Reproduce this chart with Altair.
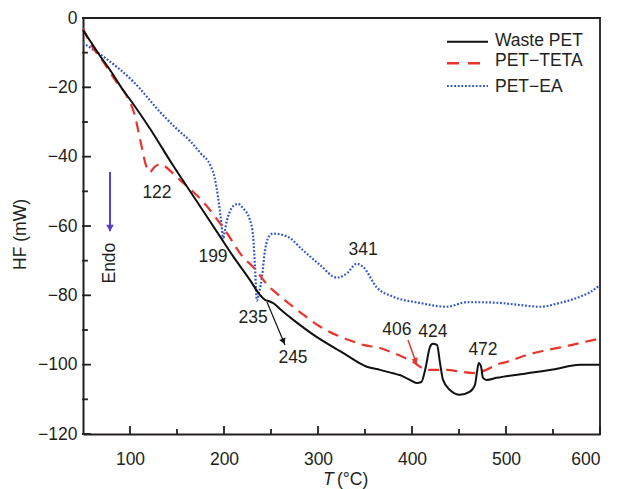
import altair as alt
import pandas as pd

# ---------------- data ----------------
waste_T = [50, 58, 66, 80, 92.6, 100, 121, 145.7, 174.5, 195.7, 209.6, 227.7, 238, 243.6, 248, 252,
           262, 273.4, 298.5, 326.6, 352, 366, 380, 387, 397.8, 405, 410, 414, 419, 422, 426.6,
           429.8, 433, 440.4, 451, 461.7, 467, 469, 471, 473.5, 475.5, 479.4, 490, 520, 550, 578.7, 600]
waste_HF = [-3.5, -6.8, -10.1, -15.5, -20.8, -23.5, -31.8, -42.5, -54.3, -63, -68.7, -75.6, -79.8, -81.3, -81.7, -82.2,
            -84.5, -87, -92, -96.6, -100.6, -101.5, -102.5, -103, -104.4, -105.3, -105, -101.5, -95, -94, -94.3,
            -99.5, -104.4, -107.3, -108.7, -107.8, -105.8, -102.4, -99.5, -100.6, -103.8, -104.4, -103.8, -102.6, -101.4, -100, -100]

teta_T = [50, 60.6, 70, 85, 96, 105, 112, 117, 121, 126, 132, 145.7, 153, 160.6, 177.7, 203, 220, 231,
          249, 252, 284, 302, 320, 341.5, 348, 366, 380, 401, 416, 437, 451, 465, 479, 490, 501, 522,
          543.6, 565, 592.6, 600]
teta_HF = [-3.0, -8.6, -12, -18.2, -22.2, -28, -36.6, -42.5, -44.5, -43, -42.2, -44.8, -46.7, -48.5, -53, -62, -68.9, -71.8,
           -77.8, -78.5, -85.5, -89, -91.5, -93.7, -94.3, -95.2, -96.6, -99.2, -101.5, -101.5, -102, -102.4, -101.5, -100, -99.2, -97.2,
           -95.8, -94.6, -92.9, -92.5]

ea_T = [50, 71, 103, 135, 151, 164, 175, 186, 190, 193.6, 196, 197.9, 199, 200.5, 203, 206, 210, 215, 220,
        227.7, 231, 233, 235, 237.5, 240.4, 243.6, 249, 252, 267, 284, 302, 320, 331, 341, 348, 362.8, 380,
        408.5, 437, 458, 475, 493.6, 515, 536, 557, 578.7, 590, 600]
ea_HF = [-7.2, -11, -18.2, -28, -32.3, -35.5, -39, -42.8, -46, -51.6, -56.5, -61, -64, -62, -58.5, -56, -54.2, -53.6, -54.8,
         -58.3, -63, -71.8, -81.5, -79, -74.7, -67, -62.6, -62.2, -63, -67, -71.2, -74.9, -73.6, -70.9, -71.8, -77.8, -80.4,
         -82.2, -83.3, -82, -82, -82.2, -82.8, -83.3, -82.2, -80.4, -79, -77]

series_names = ["Waste PET", "PET\u2212TETA", "PET\u2212EA"]

x_major = [100, 200, 300, 400, 500, 600]
x_minor = [150, 250, 350, 450, 550]
y_major = [0, -20, -40, -60, -80, -100, -120]
y_minor = [-10, -30, -50, -70, -90, -110]
x_min, x_max = 50, 600
y_min, y_max = -120, 0

peak_labels = ["122", "199", "235", "245", "341", "406", "424", "472"]
peak_T = [128.7, 188.3, 230.9, 273.4, 347.9, 384, 422.3, 475.5]
peak_HF = [-50.5, -68.9, -86.5, -98.1, -66.9, -90.0, -90.6, -95.8]

# arrows (start, end) in data space
black_arrow_T = [245.7, 264.9]
black_arrow_HF = [-81.9, -94.3]
red_arrow_T = [395.7, 405.3]
red_arrow_HF = [-92.9, -100.1]
endo_arrow_T = [78.7, 78.7]
endo_arrow_HF = [-44.4, -61.5]
endo_text_T = [78.7]
endo_text_HF = [-70.7]

# ---------------- styling ----------------
W, H = 517, 416
FONT = "Liberation Sans"
FS = 17.5
INK = "#231f20"
BLACK = "#111111"
RED = "#e8352c"
BLUE = "#2f55cc"
PURPLE = "#5b3fc4"
MAJOR_PX, MINOR_PX = 7, 4

xs = alt.Scale(domain=[x_min, x_max], nice=False, zero=False)
ys = alt.Scale(domain=[y_min, y_max], nice=False, zero=False)

x_axis = alt.Axis(values=x_major, title=None, grid=False, domain=True, domainColor=INK, domainWidth=2,
                  ticks=False, tickSize=0, labelPadding=16, labelFont=FONT, labelFontSize=FS, labelColor=INK)
y_axis = alt.Axis(values=y_major, title="HF (mW)", titleX=-58, titleY=216, titleAngle=270,
                  titleAlign="center", titleBaseline="alphabetic", titleFont=FONT, titleFontSize=FS,
                  titleFontWeight="normal", titleColor=INK, grid=False, domain=True, domainColor=INK,
                  domainWidth=2, ticks=False, tickSize=0, labelPadding=6, labelFont=FONT,
                  labelFontSize=FS, labelColor=INK)

X = alt.X("T:Q", scale=xs, axis=x_axis)
Y = alt.Y("HF:Q", scale=ys, axis=y_axis)

one = pd.DataFrame({"a": [0]})

# data units per pixel, to size the inside ticks
ux = (x_max - x_min) / W
uy = (y_max - y_min) / H

# segments (inside ticks + top/right frame) as two-point lines
rows = []
k = 0
for v in x_major:
    rows += [dict(g=k, T=v, HF=y_min), dict(g=k, T=v, HF=y_min + MAJOR_PX * uy)]; k += 1
for v in x_minor:
    rows += [dict(g=k, T=v, HF=y_min), dict(g=k, T=v, HF=y_min + MINOR_PX * uy)]; k += 1
for v in y_major:
    rows += [dict(g=k, T=x_min, HF=v), dict(g=k, T=x_min + MAJOR_PX * ux, HF=v)]; k += 1
for v in y_minor:
    rows += [dict(g=k, T=x_min, HF=v), dict(g=k, T=x_min + MINOR_PX * ux, HF=v)]; k += 1
rows += [dict(g=k, T=x_min, HF=y_max), dict(g=k, T=x_max, HF=y_max)]; k += 1
rows += [dict(g=k, T=x_max, HF=y_min), dict(g=k, T=x_max, HF=y_max)]; k += 1
seg_df = pd.DataFrame(rows)


def curve(T, HF, color, width, dash=None):
    df = pd.DataFrame({"T": T, "HF": HF})
    kw = dict(color=color, strokeWidth=width, interpolate="monotone")
    if dash is not None:
        kw["strokeDash"] = dash
    return alt.Chart(df).mark_line(**kw).encode(x=X, y=Y)


def seg(T, HF, color, width):
    df = pd.DataFrame({"T": T, "HF": HF})
    return alt.Chart(df).mark_line(color=color, strokeWidth=width).encode(x=X, y=Y)


def head(T, HF, color, size, angle):
    df = pd.DataFrame({"T": [T], "HF": [HF]})
    return alt.Chart(df).mark_point(shape="triangle-down", filled=True, color=color, size=size,
                                    angle=angle, opacity=1, strokeWidth=0).encode(x=X, y=Y)


layers = []

# curves
layers.append(curve(ea_T, ea_HF, BLUE, 2.2, [1.8, 1.8]))
layers.append(curve(teta_T, teta_HF, RED, 2.2, [11, 7]))
layers.append(curve(waste_T, waste_HF, BLACK, 2.0))

# ticks and frame
layers.append(alt.Chart(seg_df).mark_line(color=INK, strokeWidth=1.8, strokeCap="square")
              .encode(x=X, y=Y, detail="g:N", order="HF:Q"))

# annotations
layers.append(alt.Chart(pd.DataFrame({"T": peak_T, "HF": peak_HF, "label": peak_labels}))
              .mark_text(font=FONT, fontSize=FS, color=INK, align="center", baseline="middle")
              .encode(x=X, y=Y, text="label:N"))
layers.append(seg(black_arrow_T, black_arrow_HF, BLACK, 1.2))
layers.append(head(263.3, -93.3, BLACK, 45, 337))
layers.append(seg(red_arrow_T, red_arrow_HF, RED, 1.5))
layers.append(head(403.8, -99.0, RED, 45, 340))
layers.append(seg(endo_arrow_T, endo_arrow_HF, PURPLE, 2.0))
layers.append(head(78.7, -60.6, PURPLE, 60, 0))
layers.append(alt.Chart(pd.DataFrame({"T": endo_text_T, "HF": endo_text_HF}))
              .mark_text(text="Endo", font=FONT, fontSize=FS, color=INK, angle=270,
                         align="center", baseline="middle")
              .encode(x=X, y=Y))

# x-axis title with italic T
layers.append(alt.Chart(one).mark_text(text="T", font=FONT, fontSize=FS, fontStyle="italic", color=INK,
                                       align="left", baseline="middle")
              .encode(x=alt.value(240), y=alt.value(462)))
layers.append(alt.Chart(one).mark_text(text="(\u00b0C)", font=FONT, fontSize=FS, color=INK,
                                       align="left", baseline="middle")
              .encode(x=alt.value(254), y=alt.value(462)))

# legend (manual)
leg_line_y = [23.7, 45.3, 68.0]
leg_text_y = [22.8, 43.3, 68.7]
leg_styles = [(BLACK, None, 2.0), (RED, [12, 9], 2.4), (BLUE, [1.8, 1.8], 2.2)]
for name, ly, ty, (col, dash, wdt) in zip(series_names, leg_line_y, leg_text_y, leg_styles):
    kw = dict(color=col, strokeWidth=wdt)
    if dash is not None:
        kw["strokeDash"] = dash
    layers.append(alt.Chart(one).mark_rule(**kw)
                  .encode(x=alt.value(364), x2=alt.value(405), y=alt.value(ly)))
    layers.append(alt.Chart(one).mark_text(text=name, font=FONT, fontSize=FS, color=INK,
                                           align="left", baseline="middle")
                  .encode(x=alt.value(412), y=alt.value(ty)))

chart = (
    alt.layer(*layers)
    .properties(width=W, height=H, autosize=alt.AutoSizeParams(type="none"),
                padding={"left": 75, "top": 10, "right": 9, "bottom": 56},
                background="white")
    .configure_view(stroke=None)
)

chart.save("out.html", embed_options={"renderer": "svg", "actions": False})
